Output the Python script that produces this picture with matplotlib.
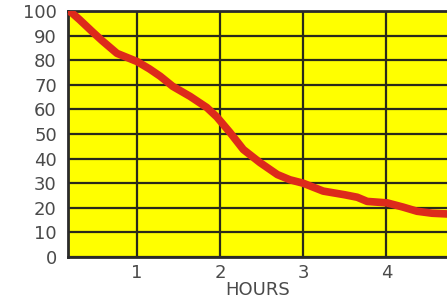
import matplotlib
matplotlib.use("Agg")
import matplotlib.pyplot as plt

hours = [0.17, 0.21, 0.31, 0.47, 0.58, 0.76, 1.0, 1.15, 1.28, 1.43, 1.64, 1.84, 1.96,
         2.12, 2.28, 2.48, 2.69, 2.84, 3.0, 3.24, 3.5, 3.65, 3.77, 4.01, 4.2, 4.37, 4.55, 4.73]
percent = [100, 99.5, 96.5, 91.4, 88.0, 82.8, 79.5, 76.5, 73.5, 69.4, 65.3, 60.8, 57.0,
           50.6, 43.7, 38.4, 33.5, 31.4, 30.0, 26.8, 25.3, 24.3, 22.6, 22.0, 20.3, 18.6, 17.8, 17.5]
xticks = [1, 2, 3, 4]
yticks = list(range(0, 101, 10))

fig = plt.figure(figsize=(4.47, 2.97), dpi=100)
ax = fig.add_axes([0.152, 0.1347, 0.848, 0.828])
ax.set_facecolor("#ffff00")
ax.plot(hours, percent, color="#dd2a1b", lw=5.5, solid_capstyle="round",
        solid_joinstyle="round", zorder=3)
ax.set_xlim(0.17, 4.73)
ax.set_ylim(0, 100)
ax.set_xticks(xticks)
ax.set_yticks(yticks)
ax.grid(True, color="#2a2a1a", lw=1.6, zorder=1)
ax.set_axisbelow(True)
ax.tick_params(length=0, labelsize=13, labelcolor="#4a4a4a")
ax.tick_params(axis="y", pad=8)
ax.tick_params(axis="x", pad=5)
for s in ["left", "bottom", "top"]:
    ax.spines[s].set_color("#2a2a2a")
    ax.spines[s].set_linewidth(2)
ax.spines["right"].set_visible(False)
ax.set_xlabel("HOURS", fontsize=13, color="#4a4a4a", labelpad=-1)
fig.savefig("out.png", dpi=100, facecolor="white")
